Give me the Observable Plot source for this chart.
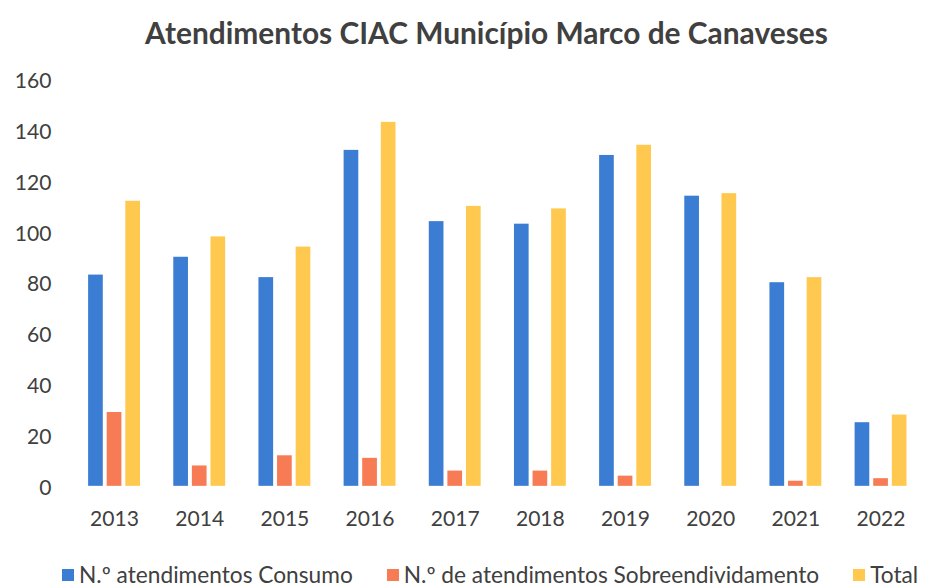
<!DOCTYPE html>
<html><head><meta charset="utf-8">
<script src="https://cdn.jsdelivr.net/npm/d3@7"></script>
<script src="https://cdn.jsdelivr.net/npm/@observablehq/plot@0.6"></script>
<style>
html,body{margin:0;padding:0;background:#fff;overflow:hidden;width:930px;height:588px}
#wrap{position:relative;width:930px;height:588px;overflow:hidden;font-family:Lato,sans-serif;color:#404040}
#title{position:absolute;left:0;top:18px;width:973px;text-align:center;font-weight:700;white-space:nowrap;line-height:1}
#chart{position:absolute;left:0;top:60px}
#legend{position:absolute;left:62px;top:564px;height:22px;display:flex;align-items:center;gap:34px;white-space:nowrap;line-height:1}
.item{display:flex;align-items:center;gap:5px}
.sw{width:12px;height:12px;flex:none}
</style></head><body><div id="wrap"><div id="title"></div><div id="chart"></div><div id="legend"></div></div>
<script>
const titleText = "Atendimentos CIAC Município Marco de Canaveses";
const years = ["2013","2014","2015","2016","2017","2018","2019","2020","2021","2022"];
const consumo = [83, 90, 82, 132, 104, 103, 130, 114, 80, 25];
const sobreendividamento = [29, 8, 12, 11, 6, 6, 4, 0, 2, 3];
const total = [112, 98, 94, 143, 110, 109, 134, 115, 82, 28];
const seriesNames = ["N.º atendimentos Consumo", "N.º de atendimentos Sobreendividamento", "Total"];
const seriesColors = ["#3B7DD3", "#F77B54", "#FFC950"];
const yTicks = [0, 20, 40, 60, 80, 100, 120, 140, 160];

const seriesValues = [consumo, sobreendividamento, total];
const data = years.flatMap((yr, i) => seriesNames.map((s, k) => ({year: yr, series: s, value: seriesValues[k][i]})));

function fitSize(text, weight, target) {
  const c = document.createElement("canvas").getContext("2d");
  c.font = `${weight} 100px Lato`;
  return 100 * target / c.measureText(text).width;
}

const titleEl = document.getElementById("title");
titleEl.textContent = titleText;
titleEl.style.fontSize = fitSize(titleText, 700, 683) + "px";

const legendSize = fitSize(seriesNames[0], 400, 274);
const legendEl = document.getElementById("legend");
legendEl.style.fontSize = legendSize + "px";
seriesNames.forEach((s, k) => {
  const it = document.createElement("div");
  it.className = "item";
  const sw = document.createElement("div");
  sw.className = "sw";
  sw.style.background = seriesColors[k];
  const tx = document.createElement("span");
  tx.textContent = s;
  it.appendChild(sw); it.appendChild(tx);
  legendEl.appendChild(it);
});

const tickFont = fitSize("2013", 400, 50);

const chart = Plot.plot({
  width: 950,
  height: 476,
  marginLeft: 68,
  marginRight: 3,
  marginTop: 19,
  marginBottom: 41,
  style: {fontFamily: "Lato, sans-serif", fontSize: tickFont + "px", color: "#404040", background: "transparent", overflow: "visible"},
  fx: {domain: years, padding: 0, label: null},
  x: {domain: seriesNames, paddingInner: 0.22, paddingOuter: 0.82, axis: null},
  y: {domain: [0, 160], label: null},
  color: {domain: seriesNames, range: seriesColors},
  marks: [
    Plot.barY(data, {fx: "year", x: "series", y: "value", fill: "series"}),
    Plot.axisY({ticks: yTicks, tickSize: 0, tickPadding: 21, dy: 2, label: null, fill: "#404040", fontSize: tickFont}),
    Plot.axisFx({anchor: "bottom", tickSize: 0, tickPadding: 25, label: null, fill: "#404040", fontSize: tickFont})
  ]
});
document.getElementById("chart").appendChild(chart);
</script></body></html>
